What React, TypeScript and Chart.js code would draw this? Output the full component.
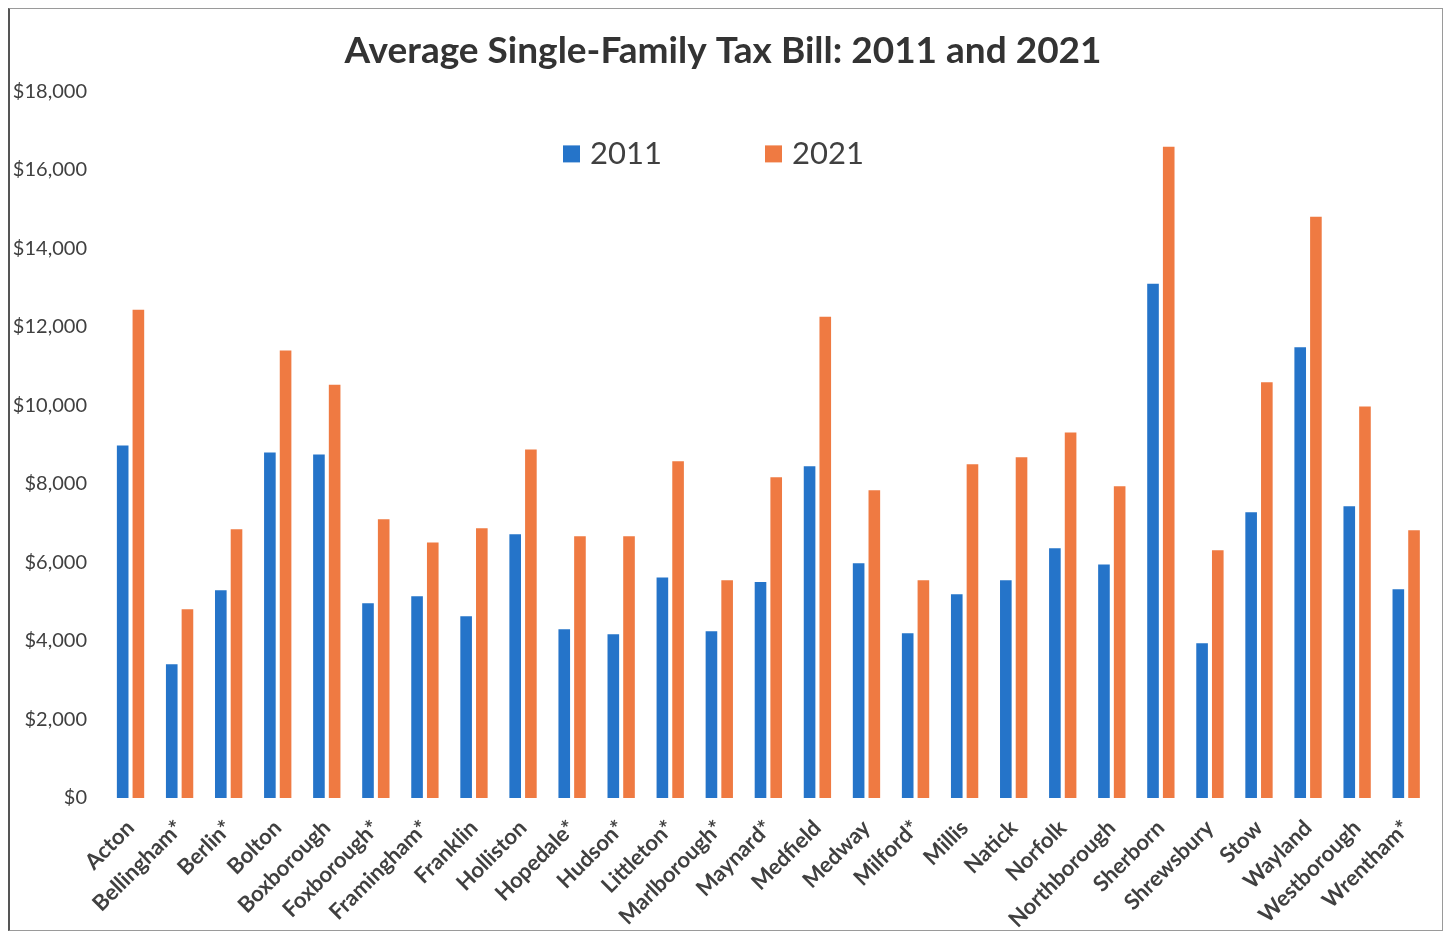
import React, { useEffect, useRef } from "react";
import { Chart, registerables } from "chart.js";

Chart.register(...registerables);

const towns = [
  "Acton", "Bellingham*", "Berlin*", "Bolton", "Boxborough", "Foxborough*", "Framingham*",
  "Franklin", "Holliston", "Hopedale*", "Hudson*", "Littleton*", "Marlborough*", "Maynard*",
  "Medfield", "Medway", "Milford*", "Millis", "Natick", "Norfolk", "Northborough",
  "Sherborn", "Shrewsbury", "Stow", "Wayland", "Westborough", "Wrentham*",
];

const bill2011 = [
  8980, 3410, 5290, 8800, 8750, 4960, 5140,
  4630, 6720, 4300, 4170, 5620, 4250, 5500,
  8450, 5980, 4200, 5190, 5550, 6360, 5950,
  13100, 3940, 7280, 11480, 7430, 5320,
];

const bill2021 = [
  12440, 4810, 6845, 11400, 10530, 7100, 6510,
  6870, 8880, 6670, 6670, 8580, 5550, 8170,
  12260, 7840, 5550, 8500, 8680, 9310, 7940,
  16590, 6310, 10590, 14810, 9970, 6820,
];

const seriesLabels = ["2011", "2021"];
const yTicks = [0, 2000, 4000, 6000, 8000, 10000, 12000, 14000, 16000, 18000];

const BLUE = "#2574c9";
const ORANGE = "#ef7a42";
const TEXT = "#404040";
const FONT = "Lato, 'Open Sans', sans-serif";

const legendPlugin = {
  id: "customLegend",
  afterDraw(chart: any) {
    const { ctx, chartArea } = chart;
    const y = chartArea.top + 62;
    let x = chartArea.left + 457;
    ctx.save();
    ctx.font = `31px ${FONT}`;
    ctx.textBaseline = "middle";
    ctx.textAlign = "left";
    chart.data.datasets.forEach((ds: any) => {
      ctx.fillStyle = ds.backgroundColor;
      ctx.fillRect(x, y - 8, 17, 17);
      ctx.fillStyle = TEXT;
      ctx.fillText(ds.label, x + 27, y + 1);
      x += 202;
    });
    ctx.restore();
  },
};

export default function App() {
  const ref = useRef<HTMLCanvasElement | null>(null);

  useEffect(() => {
    if (!ref.current) return;
    const chart = new Chart(ref.current, {
      type: "bar",
      data: {
        labels: towns,
        datasets: [
          { label: seriesLabels[0], data: bill2011, backgroundColor: BLUE },
          { label: seriesLabels[1], data: bill2021, backgroundColor: ORANGE },
        ],
      },
      options: {
        animation: false,
        responsive: false,
        maintainAspectRatio: false,
        layout: { padding: { left: 2, right: 8, top: 0, bottom: 0 } },
        datasets: { bar: { categoryPercentage: 0.64, barPercentage: 0.74 } },
        plugins: {
          legend: { display: false },
          tooltip: { enabled: false },
          title: {
            display: true,
            text: "Average Single-Family Tax Bill: 2011 and 2021",
            color: "#333333",
            font: { family: FONT, size: 37, weight: "bold" },
            padding: { top: 20, bottom: 18 },
          },
        },
        scales: {
          x: {
            grid: { display: false, drawTicks: false },
            border: { display: false },
            ticks: {
              color: TEXT,
              font: { family: FONT, size: 22, weight: "bold" },
              minRotation: 45,
              maxRotation: 45,
              autoSkip: false,
              padding: 17,
            },
            afterFit: (axis: any) => {
              axis.height = 132;
            },
          },
          y: {
            min: 0,
            max: 18000,
            grid: { display: false, drawTicks: false },
            border: { display: false },
            afterBuildTicks: (axis: any) => {
              axis.ticks = yTicks.map((v) => ({ value: v }));
            },
            ticks: {
              color: TEXT,
              font: { family: FONT, size: 20 },
              padding: 19,
              callback: (v: any) => "$" + Number(v).toLocaleString("en-US"),
            },
            afterFit: (axis: any) => {
              axis.width = 94;
            },
          },
        },
      },
      plugins: [legendPlugin],
    });
    return () => chart.destroy();
  }, []);

  return (
    <div
      style={{
        width: 1432,
        height: 921,
        borderTop: "1px solid #9a9a9a",
        borderRight: "1px solid #9a9a9a",
        borderBottom: "1px solid #9a9a9a",
        borderLeft: "2px solid #555555",
        background: "#ffffff",
      }}
    >
      <canvas ref={ref} width={1432} height={921} style={{ display: "block" }} />
    </div>
  );
}
